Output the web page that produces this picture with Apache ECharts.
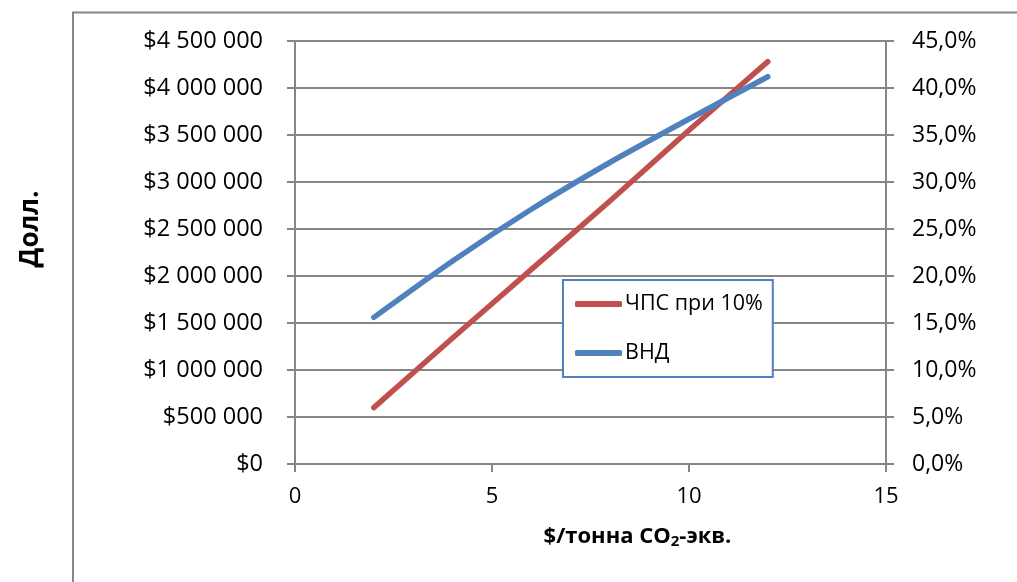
<!DOCTYPE html>
<html>
<head>
<meta charset="utf-8">
<script src="https://cdn.jsdelivr.net/npm/echarts@6/dist/echarts.min.js"></script>
<style>
html,body{margin:0;padding:0;background:#fff;}
#chart{width:1017px;height:582px;}
</style>
</head>
<body>
<div id="chart"></div>
<script>
const xValues = [2, 4, 6, 8, 10, 12];
const npvValues = [600000, 1340000, 2070000, 2800000, 3550000, 4280000];
const irrValues = [15.6, 21.6, 27.1, 32.1, 36.7, 41.2];
const seriesNames = ['ЧПС при 10%', 'ВНД'];
const xAxisTitle = '$/тонна CO{sub|2}-экв.';
const yAxisTitle = 'Долл.';

const FONT = '"Open Sans", "Noto Sans", sans-serif';
const GRAY = '#868686';

function money(v) {
  const s = String(Math.round(v)).replace(/\B(?=(\d{3})+(?!\d))/g, ' ');
  return '$' + s;
}
function pct(v) {
  return v.toFixed(1).replace('.', ',') + '%';
}

const chart = echarts.init(document.getElementById('chart'), null, {renderer: 'canvas'});
chart.setOption({
  animation: false,
  backgroundColor: '#fff',
  grid: {left: 295, right: 131, top: 41, bottom: 118, containLabel: false},
  legend: {
    orient: 'vertical',
    left: 563, top: 280,
    width: 207,
    padding: [13, 10, 13, 12],
    itemGap: 27,
    itemWidth: 47, itemHeight: 6,
    icon: 'roundRect',
    borderColor: '#4F81BD', borderWidth: 2,
    backgroundColor: '#fff',
    textStyle: {fontFamily: FONT, fontSize: 21.5, color: '#000', padding: [0, 0, 0, -2]},
    data: seriesNames
  },
  xAxis: {
    type: 'value', min: 0, max: 15, interval: 5,
    axisLine: {show: true, lineStyle: {color: GRAY, width: 2}},
    axisTick: {show: true, inside: false, length: 8, lineStyle: {color: GRAY, width: 2}},
    splitLine: {show: false},
    axisLabel: {fontFamily: FONT, fontSize: 22, color: '#000', margin: 22},
    name: xAxisTitle,
    nameLocation: 'middle', nameGap: 61,
    nameTextStyle: {
      fontFamily: FONT, fontSize: 22, fontWeight: 'bold', color: '#000',
      padding: [0, 0, 0, 94],
      rich: {sub: {fontFamily: FONT, fontSize: 15, fontWeight: 'bold', color: '#000', verticalAlign: 'bottom', padding: [9, 0, 0, 0]}}
    }
  },
  yAxis: [
    {
      type: 'value', min: 0, max: 4500000, interval: 500000,
      axisLine: {show: true, lineStyle: {color: GRAY, width: 2}},
      axisTick: {show: true, length: 8, lineStyle: {color: GRAY, width: 2}},
      splitLine: {show: true, lineStyle: {color: GRAY, width: 2}},
      axisLabel: {fontFamily: FONT, fontSize: 23.5, color: '#000', margin: 32, formatter: money}
    },
    {
      type: 'value', min: 0, max: 45, interval: 5, position: 'right',
      axisLine: {show: true, lineStyle: {color: GRAY, width: 2}},
      axisTick: {show: true, length: 8, lineStyle: {color: GRAY, width: 2}},
      splitLine: {show: false},
      axisLabel: {fontFamily: FONT, fontSize: 23, color: '#000', margin: 26, formatter: pct}
    }
  ],
  graphic: [
    {type: 'polyline', shape: {points: [[73, 582], [73, 12.5], [1017, 12.5]]}, style: {stroke: GRAY, lineWidth: 2, fill: null}},
    {type: 'text', x: 31, y: 229, rotation: Math.PI / 2,
      style: {text: yAxisTitle, font: 'bold 26px ' + FONT, fill: '#000', textAlign: 'center', textVerticalAlign: 'middle'}}
  ],
  series: [
    {
      name: seriesNames[0], type: 'line', yAxisIndex: 0,
      data: xValues.map((x, i) => [x, npvValues[i]]),
      symbol: 'none', smooth: 0.1,
      lineStyle: {color: '#C0504D', width: 5.5, cap: 'round', join: 'round'},
      itemStyle: {color: '#C0504D'}
    },
    {
      name: seriesNames[1], type: 'line', yAxisIndex: 1,
      data: xValues.map((x, i) => [x, irrValues[i]]),
      symbol: 'none', smooth: 0.2,
      lineStyle: {color: '#4F81BD', width: 5.5, cap: 'round', join: 'round'},
      itemStyle: {color: '#4F81BD'}
    }
  ]
});
</script>
</body>
</html>
